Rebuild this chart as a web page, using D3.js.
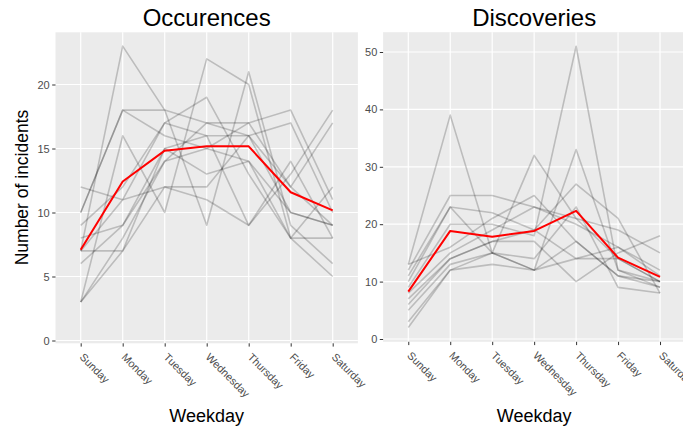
<!DOCTYPE html>
<html>
<head>
<meta charset="utf-8">
<script src="https://cdn.jsdelivr.net/npm/d3@7"></script>
<style>
  html, body { margin: 0; padding: 0; background: #ffffff; }
  svg { display: block; font-family: "Liberation Sans", Arial, Helvetica, sans-serif; }
</style>
</head>
<body>
<svg id="chart" width="683" height="427"></svg>
<script>
// Weekday categories shared by both panels
const weekdays = ["Sunday", "Monday", "Tuesday", "Wednesday", "Thursday", "Friday", "Saturday"];

// Incidents by weekday when they occurred, one row per period
const occurrenceSeries = [
  [7, 23, 18, 9, 21, 9, 6],
  [10, 18, 18, 17, 16, 10, 9],
  [10, 18, 16, 15, 17, 18, 11],
  [3, 16, 10, 22, 20, 8, 5],
  [12, 11, 12, 12, 16, 12, 17],
  [9, 12, 17, 16, 9, 13, 18],
  [8, 9, 15, 16, 16, 17, 10],
  [7, 11, 17, 19, 13, 8, 12],
  [6, 9, 14, 17, 17, 12, 9],
  [3, 8, 14, 15, 14, 10, 9],
  [3, 7, 15, 13, 14, 8, 8],
  [7, 7, 12, 11, 9, 14, 8]
];

// Incidents by weekday when they were discovered, one row per period
const discoverySeries = [
  [13, 39, 15, 32, 21, 14, 10],
  [12, 25, 25, 23, 20, 16, 12],
  [11, 23, 22, 19, 27, 21, 8],
  [10, 23, 15, 12, 33, 12, 10],
  [9, 20, 20, 18, 51, 12, 9],
  [13, 16, 21, 25, 17, 11, 10],
  [8, 15, 19, 23, 21, 19, 15],
  [7, 14, 17, 17, 10, 15, 18],
  [6, 14, 17, 19, 14, 16, 11],
  [5, 13, 15, 14, 23, 9, 8],
  [3, 12, 15, 12, 17, 11, 9],
  [2, 12, 13, 12, 14, 14, 10]
];

const occurrenceTicks = [0, 5, 10, 15, 20];
const discoveryTicks = [0, 10, 20, 30, 40, 50];

const svg = d3.select("#chart");

function drawPanel(cfg) {
  const x = d3.scalePoint().domain(weekdays).range([cfg.left, cfg.right]).padding(0.6);
  const y = d3.scaleLinear().domain(cfg.yDomain).range(cfg.yRange);

  const g = svg.append("g");

  // panel background
  g.append("rect")
    .attr("x", cfg.left).attr("y", cfg.top)
    .attr("width", cfg.right - cfg.left).attr("height", cfg.bottom - cfg.top)
    .attr("fill", "#EBEBEB");

  // grid lines
  g.append("g").selectAll("line").data(cfg.ticks).join("line")
    .attr("x1", cfg.left).attr("x2", cfg.right)
    .attr("y1", d => y(d)).attr("y2", d => y(d))
    .attr("stroke", "#ffffff").attr("stroke-width", 1.2);
  g.append("g").selectAll("line").data(weekdays).join("line")
    .attr("x1", d => x(d)).attr("x2", d => x(d))
    .attr("y1", cfg.top).attr("y2", cfg.bottom)
    .attr("stroke", "#ffffff").attr("stroke-width", 1.2);

  const line = d3.line()
    .x((d, i) => x(weekdays[i]))
    .y(d => y(d));

  // individual series
  g.append("g").selectAll("path").data(cfg.series).join("path")
    .attr("d", line)
    .attr("fill", "none")
    .attr("stroke", "#000000")
    .attr("stroke-opacity", 0.2)
    .attr("stroke-width", 1.6)
    .attr("stroke-linejoin", "round");

  // mean across series
  const means = weekdays.map((w, i) => d3.mean(cfg.series, s => s[i]));
  g.append("path")
    .attr("d", line(means))
    .attr("fill", "none")
    .attr("stroke", "#FF0000")
    .attr("stroke-width", 2)
    .attr("stroke-linejoin", "round");

  // y axis
  const yAxis = g.append("g")
    .attr("transform", `translate(${cfg.left},0)`)
    .call(d3.axisLeft(y).tickValues(cfg.ticks).tickSize(3.3).tickPadding(2.5).tickFormat(d3.format("d")));
  yAxis.select(".domain").remove();
  yAxis.selectAll(".tick line").attr("stroke", "#333333").attr("stroke-width", 1);
  yAxis.selectAll(".tick text").attr("fill", "#4D4D4D").style("font-size", "11px")
    .style("font-family", "'Liberation Sans', Arial, sans-serif");

  // x axis
  const xAxis = g.append("g")
    .attr("transform", `translate(0,${cfg.bottom})`)
    .call(d3.axisBottom(x).tickSize(3.3));
  xAxis.select(".domain").remove();
  xAxis.selectAll(".tick line").attr("stroke", "#333333").attr("stroke-width", 1);
  xAxis.selectAll(".tick text")
    .attr("x", 0).attr("y", 0).attr("dy", 0)
    .attr("text-anchor", "start")
    .attr("transform", "translate(-2.2,14.5) rotate(45)")
    .attr("fill", "#4D4D4D")
    .style("font-size", "10.8px")
    .style("font-family", "'Liberation Sans', Arial, sans-serif");

  // panel title
  svg.append("text")
    .attr("x", (cfg.left + cfg.right) / 2).attr("y", 25.5)
    .attr("text-anchor", "middle")
    .style("font-size", "24px")
    .attr("fill", "#000000")
    .text(cfg.title);

  // x axis title
  svg.append("text")
    .attr("x", (cfg.left + cfg.right) / 2).attr("y", 422)
    .attr("text-anchor", "middle")
    .style("font-size", "18px")
    .attr("fill", "#000000")
    .text("Weekday");
}

drawPanel({
  title: "Occurences",
  series: occurrenceSeries,
  ticks: occurrenceTicks,
  left: 55.5, right: 357.9, top: 32.3, bottom: 343.3,
  yDomain: [0, 20], yRange: [340.5, 84.5]
});

drawPanel({
  title: "Discoveries",
  series: discoverySeries,
  ticks: discoveryTicks,
  left: 383.1, right: 685.2, top: 32.2, bottom: 341.8,
  yDomain: [0, 50], yRange: [339, 52]
});

// shared y axis title
svg.append("text")
  .attr("transform", "translate(27.5,187.5) rotate(-90)")
  .attr("text-anchor", "middle")
  .style("font-size", "17.5px")
  .attr("fill", "#000000")
  .text("Number of incidents");
</script>
</body>
</html>
